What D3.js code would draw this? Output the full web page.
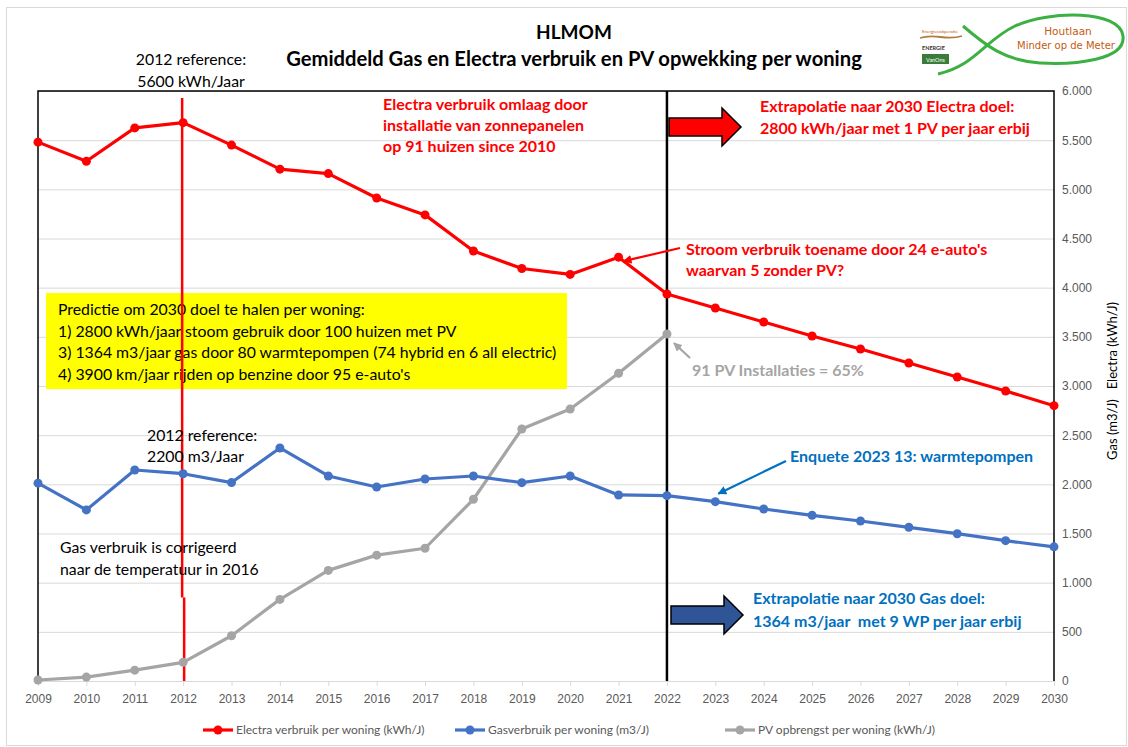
<!DOCTYPE html>
<html>
<head>
<meta charset="utf-8">
<script src="https://cdn.jsdelivr.net/npm/d3@7"></script>
<style>
  body { margin: 0; background: #fff; }
  svg { font-family: Lato, "Open Sans", sans-serif; }
  .grid line { stroke: #d9d9d9; }
  .grid .domain { display: none; }
  .yaxis text, .xaxis text { fill: #595959; font-size: 12px; }
  .yaxis .domain, .yaxis line { display: none; }
  .xaxis .domain { stroke: #d9d9d9; }
  .xaxis line { stroke: #d9d9d9; }
  .legend text { font-size: 12px; fill: #595959; }
</style>
</head>
<body>
<div id="chart"></div>
<script>
var years = d3.range(2009, 2031);
var electra = [5480, 5285, 5625, 5678, 5450, 5205, 5160, 4912, 4740, 4373, 4195, 4135, 4310, 3936, 3793, 3651, 3508, 3376, 3234, 3092, 2949, 2800];
var gas = [2012, 1740, 2146, 2108, 2018, 2370, 2085, 1973, 2054, 2085, 2017, 2085, 1892, 1885, 1824, 1749, 1685, 1627, 1563, 1498, 1427, 1364];
var pv = [10, 40, 110, 190, 460, 830, 1125, 1280, 1350, 1848, 2563, 2766, 3129, 3529];
var yTicks = d3.range(0, 6001, 500);

var width = 1128,
    height = 747,
    margin = {top: 91, right: 74, bottom: 66, left: 38};

var svg = d3.select("#chart").append("svg")
    .attr("width", width)
    .attr("height", height);

var x = d3.scaleLinear()
    .domain([2009, 2030])
    .range([margin.left, width - margin.right]);

var y = d3.scaleLinear()
    .domain([0, 6000])
    .range([height - margin.bottom, margin.top]);

var nl = d3.formatLocale({decimal: ",", thousands: ".", grouping: [3], currency: ["", ""]});

svg.append("rect")
    .attr("x", 6.5).attr("y", 7.5)
    .attr("width", width - 8).attr("height", height - 9)
    .attr("fill", "none")
    .attr("stroke", "#d9d9d9");

svg.append("g")
    .attr("class", "grid")
    .attr("transform", "translate(" + margin.left + ",0)")
    .call(d3.axisLeft(y).tickValues(yTicks).tickSize(-(x.range()[1] - x.range()[0])).tickFormat(""));

svg.append("g")
    .attr("class", "xaxis")
    .attr("transform", "translate(0," + y(0) + ")")
    .call(d3.axisBottom(x).tickValues(years).tickFormat(d3.format("d")).tickSize(5).tickPadding(8));

svg.append("g")
    .attr("class", "yaxis")
    .attr("transform", "translate(" + x(2030) + ",0)")
    .call(d3.axisRight(y).tickValues(yTicks).tickSize(0).tickPadding(8).tickFormat(nl.format(",.0f")));

// plot frame
svg.append("path")
    .attr("d", "M" + x(2009) + "," + y(0) + "V" + y(6000) + "H" + x(2030) + "V" + y(0))
    .attr("fill", "none")
    .attr("stroke", "#000")
    .attr("stroke-width", 1.5);

svg.append("text")
    .attr("transform", "translate(1117," + (y(3000) - 5) + ") rotate(-90)")
    .attr("text-anchor", "middle")
    .attr("font-size", 13)
    .attr("fill", "#000")
    .style("white-space", "pre")
    .text("Gas (m3/J)   Electra (kWh/J)");

// yellow box
var box = svg.append("g");
box.append("rect")
    .attr("x", 46).attr("y", 293)
    .attr("width", 521).attr("height", 96)
    .attr("fill", "#ffff00");
box.selectAll("text")
    .data(["Predictie om 2030 doel te halen per woning:",
           "1) 2800 kWh/jaar stoom gebruik door 100 huizen met PV",
           "3) 1364 m3/jaar gas door 80 warmtepompen (74 hybrid en 6 all electric)",
           "4) 3900 km/jaar rijden op benzine door 95 e-auto's"])
  .enter().append("text")
    .attr("x", 58)
    .attr("y", function(d, i) { return 315 + i * 21.5; })
    .attr("font-size", 15.8)
    .attr("fill", "#000")
    .text(function(d) { return d; });

// reference lines
svg.append("line")
    .attr("x1", x(2012) - 1).attr("x2", x(2012) - 1)
    .attr("y1", y(6000) + 7).attr("y2", y(850))
    .attr("stroke", "#ff0000").attr("stroke-width", 2.5);
svg.append("line")
    .attr("x1", x(2012) + 1).attr("x2", x(2012) + 1)
    .attr("y1", y(850)).attr("y2", y(0))
    .attr("stroke", "#ff0000").attr("stroke-width", 2.5);
svg.append("line")
    .attr("x1", x(2022)).attr("x2", x(2022))
    .attr("y1", y(6000)).attr("y2", y(0))
    .attr("stroke", "#000").attr("stroke-width", 2.5);

var series = [
  {name: "Electra verbruik per woning (kWh/J)", color: "#ff0000", values: electra},
  {name: "Gasverbruik per woning (m3/J)", color: "#4472c4", values: gas},
  {name: "PV opbrengst per woning (kWh/J)", color: "#a5a5a5", values: pv}
];

var line = d3.line()
    .x(function(d, i) { return x(years[i]); })
    .y(function(d) { return y(d); });

series.slice().reverse().forEach(function(s) {
  svg.append("path")
      .datum(s.values)
      .attr("fill", "none")
      .attr("stroke", s.color)
      .attr("stroke-width", 3.2)
      .attr("stroke-linejoin", "round")
      .attr("d", line);
  svg.selectAll(null)
      .data(s.values)
    .enter().append("circle")
      .attr("cx", function(d, i) { return x(years[i]); })
      .attr("cy", function(d) { return y(d); })
      .attr("r", 4.5)
      .attr("fill", s.color);
});

// annotations
function label(lines, x0, y0, color, weight, size, dy) {
  var t = svg.append("text")
      .attr("font-size", size)
      .attr("font-weight", weight)
      .attr("fill", color)
      .style("white-space", "pre");
  lines.forEach(function(l, i) {
    t.append("tspan").attr("x", x0).attr("y", y0 + i * dy).text(l);
  });
}

svg.append("text")
    .attr("x", 574).attr("y", 39)
    .attr("text-anchor", "middle")
    .attr("font-size", 19).attr("font-weight", "bold")
    .text("HLMOM");
svg.append("text")
    .attr("x", 574).attr("y", 66)
    .attr("text-anchor", "middle")
    .attr("font-size", 20.2).attr("font-weight", "bold")
    .text("Gemiddeld Gas en Electra verbruik en PV opwekking per woning");

svg.append("text").attr("x", 191).attr("y", 65).attr("text-anchor", "middle").attr("font-size", 15.8).text("2012 reference:");
svg.append("text").attr("x", 191).attr("y", 87).attr("text-anchor", "middle").attr("font-size", 15.8).text("5600 kWh/Jaar");

label(["Electra verbruik omlaag door", "installatie van zonnepanelen", "op 91 huizen since 2010"], 383, 110, "#ff0000", "bold", 16, 21);
label(["Extrapolatie naar 2030 Electra doel:", "2800 kWh/jaar met 1 PV per jaar erbij"], 760, 112, "#ff0000", "bold", 16, 22);
label(["Stroom verbruik toename door 24 e-auto's", "waarvan 5 zonder PV?"], 686, 255, "#ff0000", "bold", 16, 21);
label(["91 PV Installaties = 65%"], 692, 376, "#a5a5a5", "bold", 16, 21);
label(["2012 reference:", "2200 m3/Jaar"], 147, 441, "#000", "normal", 15.8, 21);
label(["Gas verbruik is corrigeerd", "naar de temperatuur in 2016"], 60, 553, "#000", "normal", 15.8, 22);
label(["Enquete 2023 13: warmtepompen"], 790, 462, "#0070c0", "bold", 16, 21);
label(["Extrapolatie naar 2030 Gas doel:", "1364 m3/jaar  met 9 WP per jaar erbij"], 753, 604, "#0070c0", "bold", 16, 23);

var defs = svg.append("defs");
[["red", "#ff0000"], ["grey", "#a5a5a5"], ["blue", "#0070c0"]].forEach(function(m) {
  defs.append("marker")
      .attr("id", "arrow-" + m[0])
      .attr("viewBox", "0 0 10 10")
      .attr("refX", 9).attr("refY", 5)
      .attr("markerWidth", 4).attr("markerHeight", 4)
      .attr("orient", "auto")
    .append("path")
      .attr("d", "M0,0L10,5L0,10z")
      .attr("fill", m[1]);
});

function pointer(x1, y1, x2, y2, id, color) {
  svg.append("line")
      .attr("x1", x1).attr("y1", y1)
      .attr("x2", x2).attr("y2", y2)
      .attr("stroke", color).attr("stroke-width", 2.2)
      .attr("marker-end", "url(#arrow-" + id + ")");
}
pointer(680, 248, x(2021) + 5, y(electra[12]) + 4, "red", "#ff0000");
pointer(690, 358, x(2022) + 7, y(pv[13]) + 9, "grey", "#a5a5a5");
pointer(786, 461, x(2023) + 3, y(gas[14]) - 8, "blue", "#0070c0");

function blockArrow(x0, yc, fill) {
  var d = "M" + x0 + "," + (yc - 9) + "H" + (x0 + 53) + "V" + (yc - 19) +
          "L" + (x0 + 72) + "," + yc + "L" + (x0 + 53) + "," + (yc + 19) +
          "V" + (yc + 9) + "H" + x0 + "Z";
  svg.append("path").attr("d", d).attr("fill", fill).attr("stroke", "#000").attr("stroke-width", 1.5);
}
blockArrow(669, 127, "#ff0000");
blockArrow(671, 615, "#2f5597");

// legend
var legend = svg.append("g").attr("class", "legend");
var lx = [203, 455, 725];
series.forEach(function(s, i) {
  var g = legend.append("g").attr("transform", "translate(" + lx[i] + ",730)");
  g.append("line").attr("x1", 0).attr("x2", 30).attr("stroke", s.color).attr("stroke-width", 3.2);
  g.append("circle").attr("cx", 15).attr("r", 4.5).attr("fill", s.color);
  g.append("text").attr("x", 33).attr("dy", "0.35em").text(s.name);
});

// logo
var logo = svg.append("g");
logo.append("path")
    .attr("d", "M938,74 C975,66 985,40 1015,26 C1050,10 1120,10 1123,36 C1126,60 1075,65 1040,63 C1005,61 985,45 963,26")
    .attr("fill", "none")
    .attr("stroke", "#3cb043")
    .attr("stroke-width", 3);
logo.append("text").attr("x", 1068).attr("y", 35).attr("text-anchor", "middle")
    .attr("font-size", 10.5).attr("font-family", "Comic Sans MS, DejaVu Sans").attr("fill", "#c55a11").text("Houtlaan");
logo.append("text").attr("x", 1066).attr("y", 49).attr("text-anchor", "middle")
    .attr("font-size", 10).attr("font-family", "Comic Sans MS, DejaVu Sans").attr("fill", "#c55a11").text("Minder op de Meter");
logo.append("text").attr("x", 922).attr("y", 33).attr("font-size", 4.5).attr("fill", "#c55a11").text("Energiecoöperatie");
logo.append("path").attr("d", "M920,38 C935,33 946,41 962,36").attr("fill", "none").attr("stroke", "#b08040").attr("stroke-width", 1.8);
logo.append("text").attr("x", 922).attr("y", 50).attr("font-size", 5.5).attr("font-weight", "bold").attr("fill", "#333").text("ENERGIE");
logo.append("rect").attr("x", 922).attr("y", 54).attr("width", 27).attr("height", 10).attr("fill", "#3a7d3a");
logo.append("text").attr("x", 935.5).attr("y", 61.5).attr("text-anchor", "middle").attr("font-size", 5.5).attr("fill", "#fff").text("VanOns");
</script>
</body>
</html>
